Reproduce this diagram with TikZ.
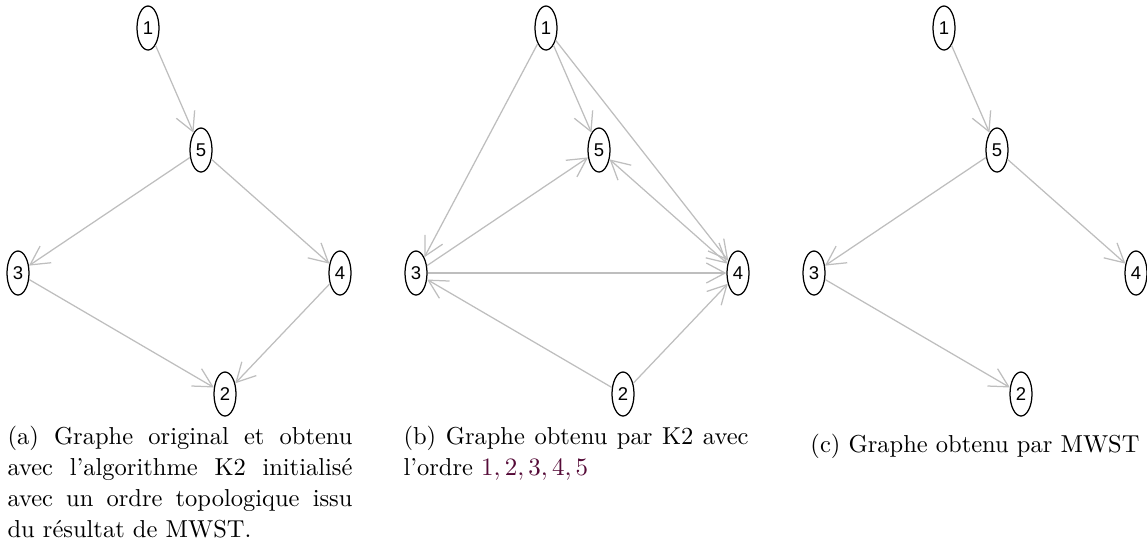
\documentclass[tikz,border=0pt]{standalone}
\usepackage{fontspec}
\usepackage{xcolor}
\usetikzlibrary{arrows.meta,shapes.geometric}
\newfontfamily\lblfont{Liberation Sans}
\definecolor{edgegray}{RGB}{190,190,190}
\definecolor{ordcol}{RGB}{85,10,55}

\begin{document}
\begin{tikzpicture}[x=0.4pt,y=-0.4pt,>={Straight Barb[length=7.5pt,width=8pt]},
  vtx/.style={draw,ellipse,line width=0.5pt,inner sep=0pt,minimum width=8.8pt,minimum height=17.6pt,font=\lblfont\fontsize{7.4}{8}\selectfont},
  lnk/.style={->,draw=edgegray,line width=0.5pt},
  capt/.style={inner sep=0pt,font=\fontsize{9.8}{12.4}\selectfont}]
\useasboundingbox (0,0) rectangle (1147,543);
\foreach \g/\dx in {a/0,b/398,c/796}
  \foreach \n/\x/\y in {1/148/28,5/201/150,3/18/273,4/340/273,2/225/394}
    \node[vtx] (\g\n) at (\x+\dx,\y) {\n};
\draw[lnk] (a1)--(a5); \draw[lnk] (a5)--(a3); \draw[lnk] (a5)--(a4);
\draw[lnk] (a3)--(a2); \draw[lnk] (a4)--(a2);
\draw[lnk] (b1)--(b3); \draw[lnk] (b1)--(b5); \draw[lnk] (b1)--(b4);
\draw[lnk] (b3)--(b5); \draw[lnk,<->] (b5)--(b4); \draw[lnk] (b3)--(b4);
\draw[lnk] (b2)--(b3); \draw[lnk] (b2)--(b4);
\draw[lnk] (c1)--(c5); \draw[lnk] (c5)--(c3); \draw[lnk] (c5)--(c4);
\draw[lnk] (c3)--(c2);
\node[capt,text width=138pt,align=justify,anchor=north west] (capa) at (7,426)
  {(a) Graphe original et obtenu\linebreak avec l'algorithme K2 initialisé\linebreak avec un ordre topologique issu\linebreak du résultat de MWST.};
\node[capt,text width=138pt,align=justify,anchor=north west] (capb) at (403,426)
  {(b) Graphe obtenu par K2 avec\linebreak l'ordre \textcolor{ordcol}{$1,2,3,4,5$}};
\node[capt,anchor=base] (capc) at (975,452) {(c) Graphe obtenu par MWST};
\end{tikzpicture}
\end{document}
